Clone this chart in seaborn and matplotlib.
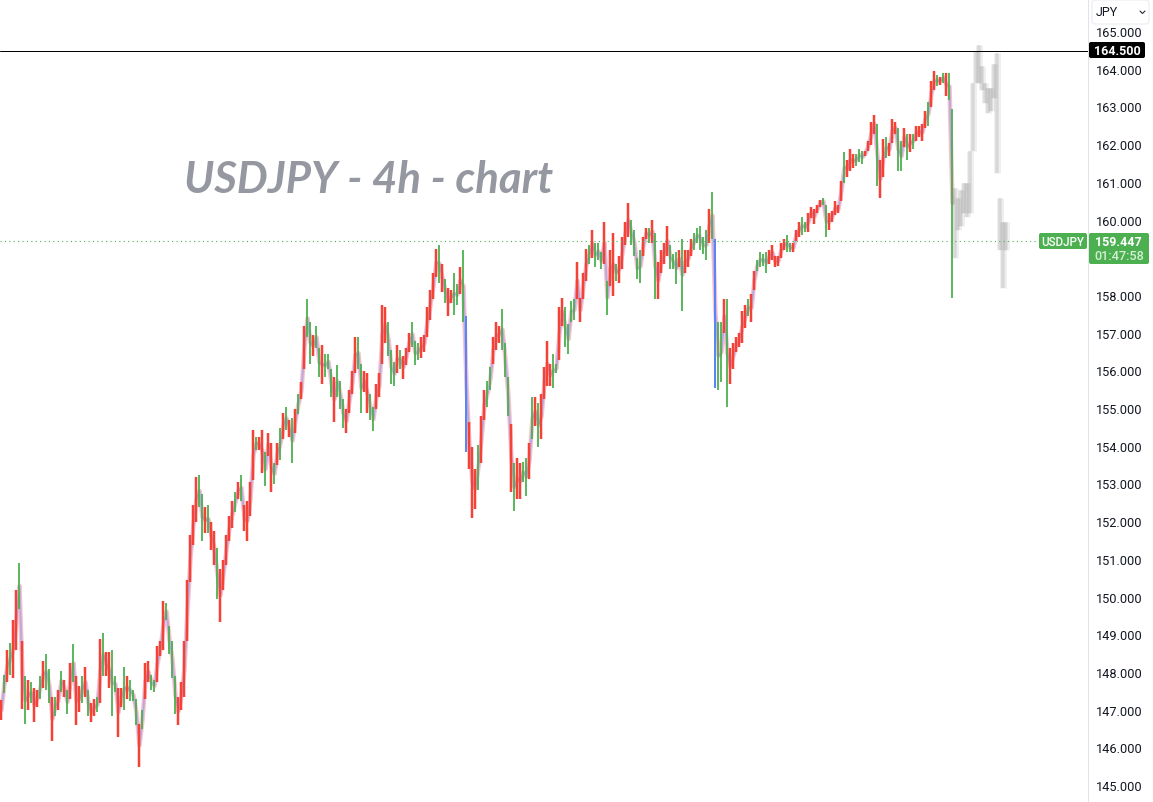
# plot.py
import matplotlib
matplotlib.use("Agg")
import matplotlib.pyplot as plt
from matplotlib.patches import FancyBboxPatch, Rectangle
from matplotlib.transforms import ScaledTranslation
import pandas as pd
import seaborn as sns

highs = [
    147.27,147.95,148.6,148.8,149.4,150.2,150.9,148.85,147.9,147.8,
    147.75,147.6,147.55,147.9,148.3,148.5,148.1,147.35,147.35,147.55,
    148.05,147.8,147.55,148.25,148.75,147.9,147.65,147.9,148.15,147.55,
    147.2,147.3,147.35,148.9,149.05,148.55,148.55,148.6,147.9,147.6,
    147.6,148.15,147.9,147.8,147.55,147.3,146.65,147.0,148.25,148.3,
    147.95,147.8,148.7,148.85,149.9,149.85,149.25,148.85,147.9,147.35,
    147.75,148.85,150.45,151.65,152.45,153.2,153.25,152.75,152.4,152.45,
    152.0,151.75,151.3,150.75,151.0,151.65,152.15,152.55,152.8,153.05,
    153.25,152.45,152.55,153.05,154.45,154.25,154.25,154.45,153.85,154.35,
    154.1,153.55,154.1,154.5,154.9,155.05,154.7,154.75,155.0,155.4,
    155.7,157.2,157.9,157.3,156.95,157.2,156.6,156.7,156.45,156.45,
    156.05,155.85,156.15,155.75,155.25,155.0,155.5,156.0,156.9,156.9,
    156.2,156.0,155.95,155.4,155.05,155.65,155.95,157.75,157.7,157.3,
    156.55,156.25,156.7,156.55,156.4,156.6,157.0,157.3,156.8,156.75,
    156.9,156.95,157.7,158.15,158.6,159.25,159.35,158.85,158.45,158.2,
    158.15,158.6,158.3,158.75,159.2,157.45,154.65,154.0,153.4,154.05,
    154.8,155.5,155.75,156.1,156.9,157.3,157.2,157.65,156.75,155.85,
    154.6,153.55,153.7,153.55,153.6,153.7,154.1,155.3,155.3,155.15,
    155.4,156.1,156.8,156.2,156.45,156.2,157.7,157.95,157.7,157.25,
    157.85,157.9,158.9,157.95,158.6,159.25,159.35,159.75,159.4,159.4,
    159.15,159.95,158.4,159.2,159.65,158.85,159.05,159.55,159.95,160.45,
    160.0,159.75,159.0,159.2,159.55,159.8,159.8,160.0,159.65,158.9,
    159.2,159.4,159.85,159.35,159.1,159.15,159.2,159.5,159.2,159.2,
    159.5,159.65,159.8,159.85,159.55,159.75,160.3,160.75,159.5,157.3,
    157.3,157.9,157.9,156.6,156.75,156.9,157.0,157.6,157.75,157.9,
    158.05,158.65,158.95,159.15,159.1,159.15,159.2,159.35,159.05,159.05,
    159.4,159.5,159.6,159.4,159.4,159.75,159.95,160.1,159.95,160.2,
    160.35,160.3,160.4,160.55,160.6,160.4,160.2,160.25,160.5,160.4,
    161.05,161.8,161.6,161.9,161.75,161.75,161.9,161.85,161.85,162.1,
    162.6,162.8,162.55,161.6,162.15,162.2,162.05,162.7,162.6,162.45,
    162.1,162.45,162.3,162.3,162.3,162.5,162.5,162.55,162.9,163.15,
    163.7,163.95,163.85,163.8,163.9,163.9,163.9,162.95,
]
lows = [
    146.75,147.45,147.75,147.95,147.85,148.6,149.7,147.05,146.65,147.0,
    147.2,146.7,147.1,147.3,147.6,147.55,147.2,146.2,146.85,147.0,
    147.5,147.35,146.9,147.3,147.75,146.6,146.95,147.2,147.35,146.85,
    146.7,146.85,146.95,147.2,147.9,147.9,147.6,146.85,147.5,146.3,
    147.1,147.0,147.3,147.25,147.25,146.6,145.5,146.5,147.3,147.75,
    147.55,147.5,147.75,148.45,148.6,149.4,148.5,147.85,146.9,146.6,
    147.0,147.35,148.85,150.4,151.4,152.0,152.4,151.5,151.7,151.7,
    151.25,150.85,149.95,149.35,150.2,150.85,151.5,151.85,152.25,152.6,
    152.55,151.75,151.5,152.15,153.1,153.9,153.9,153.3,152.95,153.75,
    152.8,153.0,153.5,153.65,154.2,154.45,154.25,153.55,154.35,154.85,
    155.25,156.05,156.9,156.2,156.4,156.6,155.85,155.65,155.85,156.05,
    155.3,154.65,155.3,155.0,154.5,154.35,154.9,155.4,155.95,156.05,
    154.9,155.45,154.9,154.7,154.4,155.0,155.3,156.2,156.75,156.4,
    155.65,155.6,155.95,156.05,155.8,156.15,156.5,156.65,156.15,156.3,
    156.35,156.5,156.9,157.35,157.9,158.5,158.35,158.1,157.8,157.45,
    157.8,157.5,157.75,158.05,157.3,153.85,153.4,152.1,152.35,152.85,
    153.55,154.7,155.05,155.5,156.2,156.55,156.75,156.55,155.85,154.8,
    152.8,152.3,152.6,152.6,153.05,152.7,153.15,154.2,154.55,154.0,
    154.2,155.25,155.6,155.6,155.55,155.95,156.3,157.2,156.65,156.45,
    157.3,157.35,157.9,157.3,157.9,158.4,158.85,159.0,158.75,158.95,
    158.7,158.85,157.5,158.25,158.0,158.4,158.35,158.7,159.35,159.55,
    159.35,159.05,158.45,158.35,159.05,159.5,159.4,159.4,157.9,157.9,
    158.6,158.85,159.05,158.7,158.7,158.3,158.75,157.6,158.6,158.75,
    159.05,159.2,159.4,159.2,159.1,158.95,159.4,159.5,155.55,155.5,
    155.7,157.0,155.05,155.65,156.05,156.5,156.65,156.75,157.15,157.45,
    157.3,158.15,158.65,158.75,158.8,158.6,158.85,158.95,158.75,158.8,
    159.0,159.2,159.15,159.15,159.15,159.45,159.55,159.6,159.7,159.7,
    160.05,159.9,160.2,160.35,160.4,159.55,159.75,159.95,160.15,160.2,
    160.5,161.0,161.15,161.3,161.4,161.45,161.55,161.5,161.7,161.85,
    162.0,162.3,160.9,160.6,161.15,161.65,161.7,162.05,162.3,161.3,
    161.3,161.95,161.6,161.8,161.9,162.1,162.2,162.1,162.45,162.5,
    163.0,163.45,163.55,163.6,163.65,163.3,163.2,157.95,
]
# r = down bar, g = up bar, b = blue fast move
dirs = list(
    "rgrgrrgrgr" "grrgrggrgr" "grgrgrrgrg" "rrgrgrrggr" "rgrgggrgrr"
    "ggrrrggggr" "rrrrrrggrg" "rrgrrrrrgr" "grrrrgrrgr" "rgrgrgrgrg"
    "rrggrggrgg" "grgggrrrrg" "grrggrrrrg" "ggrgrrrggg" "rrrrrrgrgr"
    "rggrgbrrrg" "rrggrrrggg" "rgrrggrgrg" "rrrrggrrgg" "ggrrrrgrgg"
    "grgrrgrrrr" "ggggrrgrgr" "rrrgggrgrr" "rgggggrgbg" "grgrrrrrrg"
    "rrggggrrrr" "rrggrrrggr" "rrrrggrrrr" "rgrrrgggrr" "rrgrrgrrrg"
    "grgrgrrrrg" "rrgrgrgg"
)

# grey projected path on the right
ghost_highs = [160.85,160.6,160.8,161.0,161.0,161.85,163.65,164.5,164.65,
               164.1,163.65,163.5,163.5,164.15,164.45,160.6,159.95,159.95]
ghost_lows = [159.0,159.75,159.85,160.2,160.1,160.2,161.85,163.65,163.65,
              163.45,163.1,162.85,162.9,163.25,161.25,159.2,158.2,159.2]

# 159 sits under the green price tag, so it is not drawn
price_ticks = [p for p in range(145, 166) if p != 159]
level_price = 164.5
last_price = 159.447

GREEN = "#4caf50"
RED = "#f44336"
BLUE = "#5b85f5"
PX = 72 / 100

sns.set_theme(style="white")
plt.rcParams["font.family"] = ["Roboto", "DejaVu Sans"]

bars = pd.DataFrame({"bar": range(len(highs)), "high": highs, "low": lows, "dir": dirs})
bars["mid"] = (bars["high"] + bars["low"]) / 2
long_bars = bars.melt(id_vars=["bar", "dir"], value_vars=["high", "low"], value_name="price")
ghost = pd.DataFrame({"bar": range(len(highs), len(highs) + len(ghost_highs)),
                      "high": ghost_highs, "low": ghost_lows})
long_ghost = ghost.melt(id_vars="bar", value_vars=["high", "low"], value_name="price")

fig = plt.figure(figsize=(11.53, 8.03), dpi=100)
ax = fig.add_axes([0, 0, 1088 / 1153, 1])

# soft line under the bars
sns.lineplot(data=bars, x="bar", y="mid", color="#f49aac", alpha=0.6, lw=4.5 * PX,
             ax=ax, estimator=None, sort=False)
sns.lineplot(data=bars, x="bar", y="mid", color=BLUE, alpha=0.4, lw=2 * PX,
             ax=ax, estimator=None, sort=False)

# grey path, a wide faint pass and a narrow one
for width, alpha in [(7, 0.13), (3.5, 0.22)]:
    sns.lineplot(data=long_ghost, x="bar", y="price", units="bar", estimator=None, sort=False,
                 color="#8a8a8a", alpha=alpha, lw=width * PX, solid_capstyle="butt", ax=ax)

# green wicks are thinner than the red bars
for key, color, width in [("g", GREEN, 1.8), ("b", BLUE, 2), ("r", RED, 2.5)]:
    part = long_bars[long_bars["dir"] == key]
    sns.lineplot(data=part, x="bar", y="price", units="bar", estimator=None, sort=False,
                 color=color, lw=width * PX, solid_capstyle="butt", ax=ax)

ax.axhline(level_price, color="#000000", lw=1 * PX)
ax.set_xlim(-0.5, 1088 / 3 - 0.5)
ax.set_ylim(165 - 770.2 / 37.7, 165 + 32.8 / 37.7)
ax.set_xticks([])
ax.yaxis.tick_right()
ax.set_yticks(price_ticks)
ax.set_yticklabels([f"{p:.3f}" for p in price_ticks], fontsize=9.2, color="#131722")
ax.tick_params(axis="y", length=0, pad=7.5 * PX)
shift = ScaledTranslation(0, 0.8 / 100, fig.dpi_scale_trans)
for lbl in ax.get_yticklabels():
    lbl.set_transform(lbl.get_transform() + shift)
ax.set_xlabel("")
ax.set_ylabel("")
for side in ["top", "left", "bottom"]:
    ax.spines[side].set_visible(False)
ax.spines["right"].set_color("#e0e3eb")
ax.spines["right"].set_linewidth(1 * PX)

# dotted last price line stops at the tag
ax.plot([-0.5, 346], [last_price, last_price], color=GREEN, lw=1.1 * PX, ls=(0, (1, 3)))

ax.text(61, 161.1, "USDJPY - 4h - chart", fontsize=31.5, fontweight="bold", fontstyle="italic",
        family=["Lato", "DejaVu Sans"], color="#9598a1", va="center", ha="left")

# overlay in screen pixels for the price tags and the currency button
over = fig.add_axes([0, 0, 1, 1], facecolor="none")
over.set_xlim(0, 1153)
over.set_ylim(803, 0)
over.axis("off")


def tag(x0, y0, w, h, color):
    over.add_patch(FancyBboxPatch((x0 + 2, y0 + 2), w - 4, h - 4, boxstyle="round,pad=2,rounding_size=2",
                                  fc=color, ec="none"))


# the button hides the top of the 165 label
over.add_patch(Rectangle((1090, 0), 63, 29, fc="#ffffff", ec="none"))
over.add_patch(FancyBboxPatch((1094, 3), 53, 20, boxstyle="round,pad=2,rounding_size=3",
                              fc="#ffffff", ec="#e8eaef", lw=1 * PX))
over.text(1096, 13, "JPY", fontsize=9, color="#131722", va="center")
over.plot([1140, 1142.5, 1145], [12, 14.5, 12], color="#131722", lw=1 * PX)

tag(1089, 43, 56, 16, "#000000")
over.text(1117, 51.5, "164.500", fontsize=9, color="white", fontweight="bold", ha="center", va="center")

tag(1039, 234, 48, 16, GREEN)
over.text(1063, 242.5, "USDJPY", fontsize=8.4, color="white", fontweight="medium", ha="center", va="center")

tag(1089, 234, 60, 31, GREEN)
over.text(1118, 242.5, "159.447", fontsize=9, color="white", fontweight="bold", ha="center", va="center")
over.text(1119, 257, "01:47:58", fontsize=9.2, color="#d5eed6", fontweight="medium", ha="center", va="center")

fig.savefig("out.png", dpi=100)
plt.close(fig)
